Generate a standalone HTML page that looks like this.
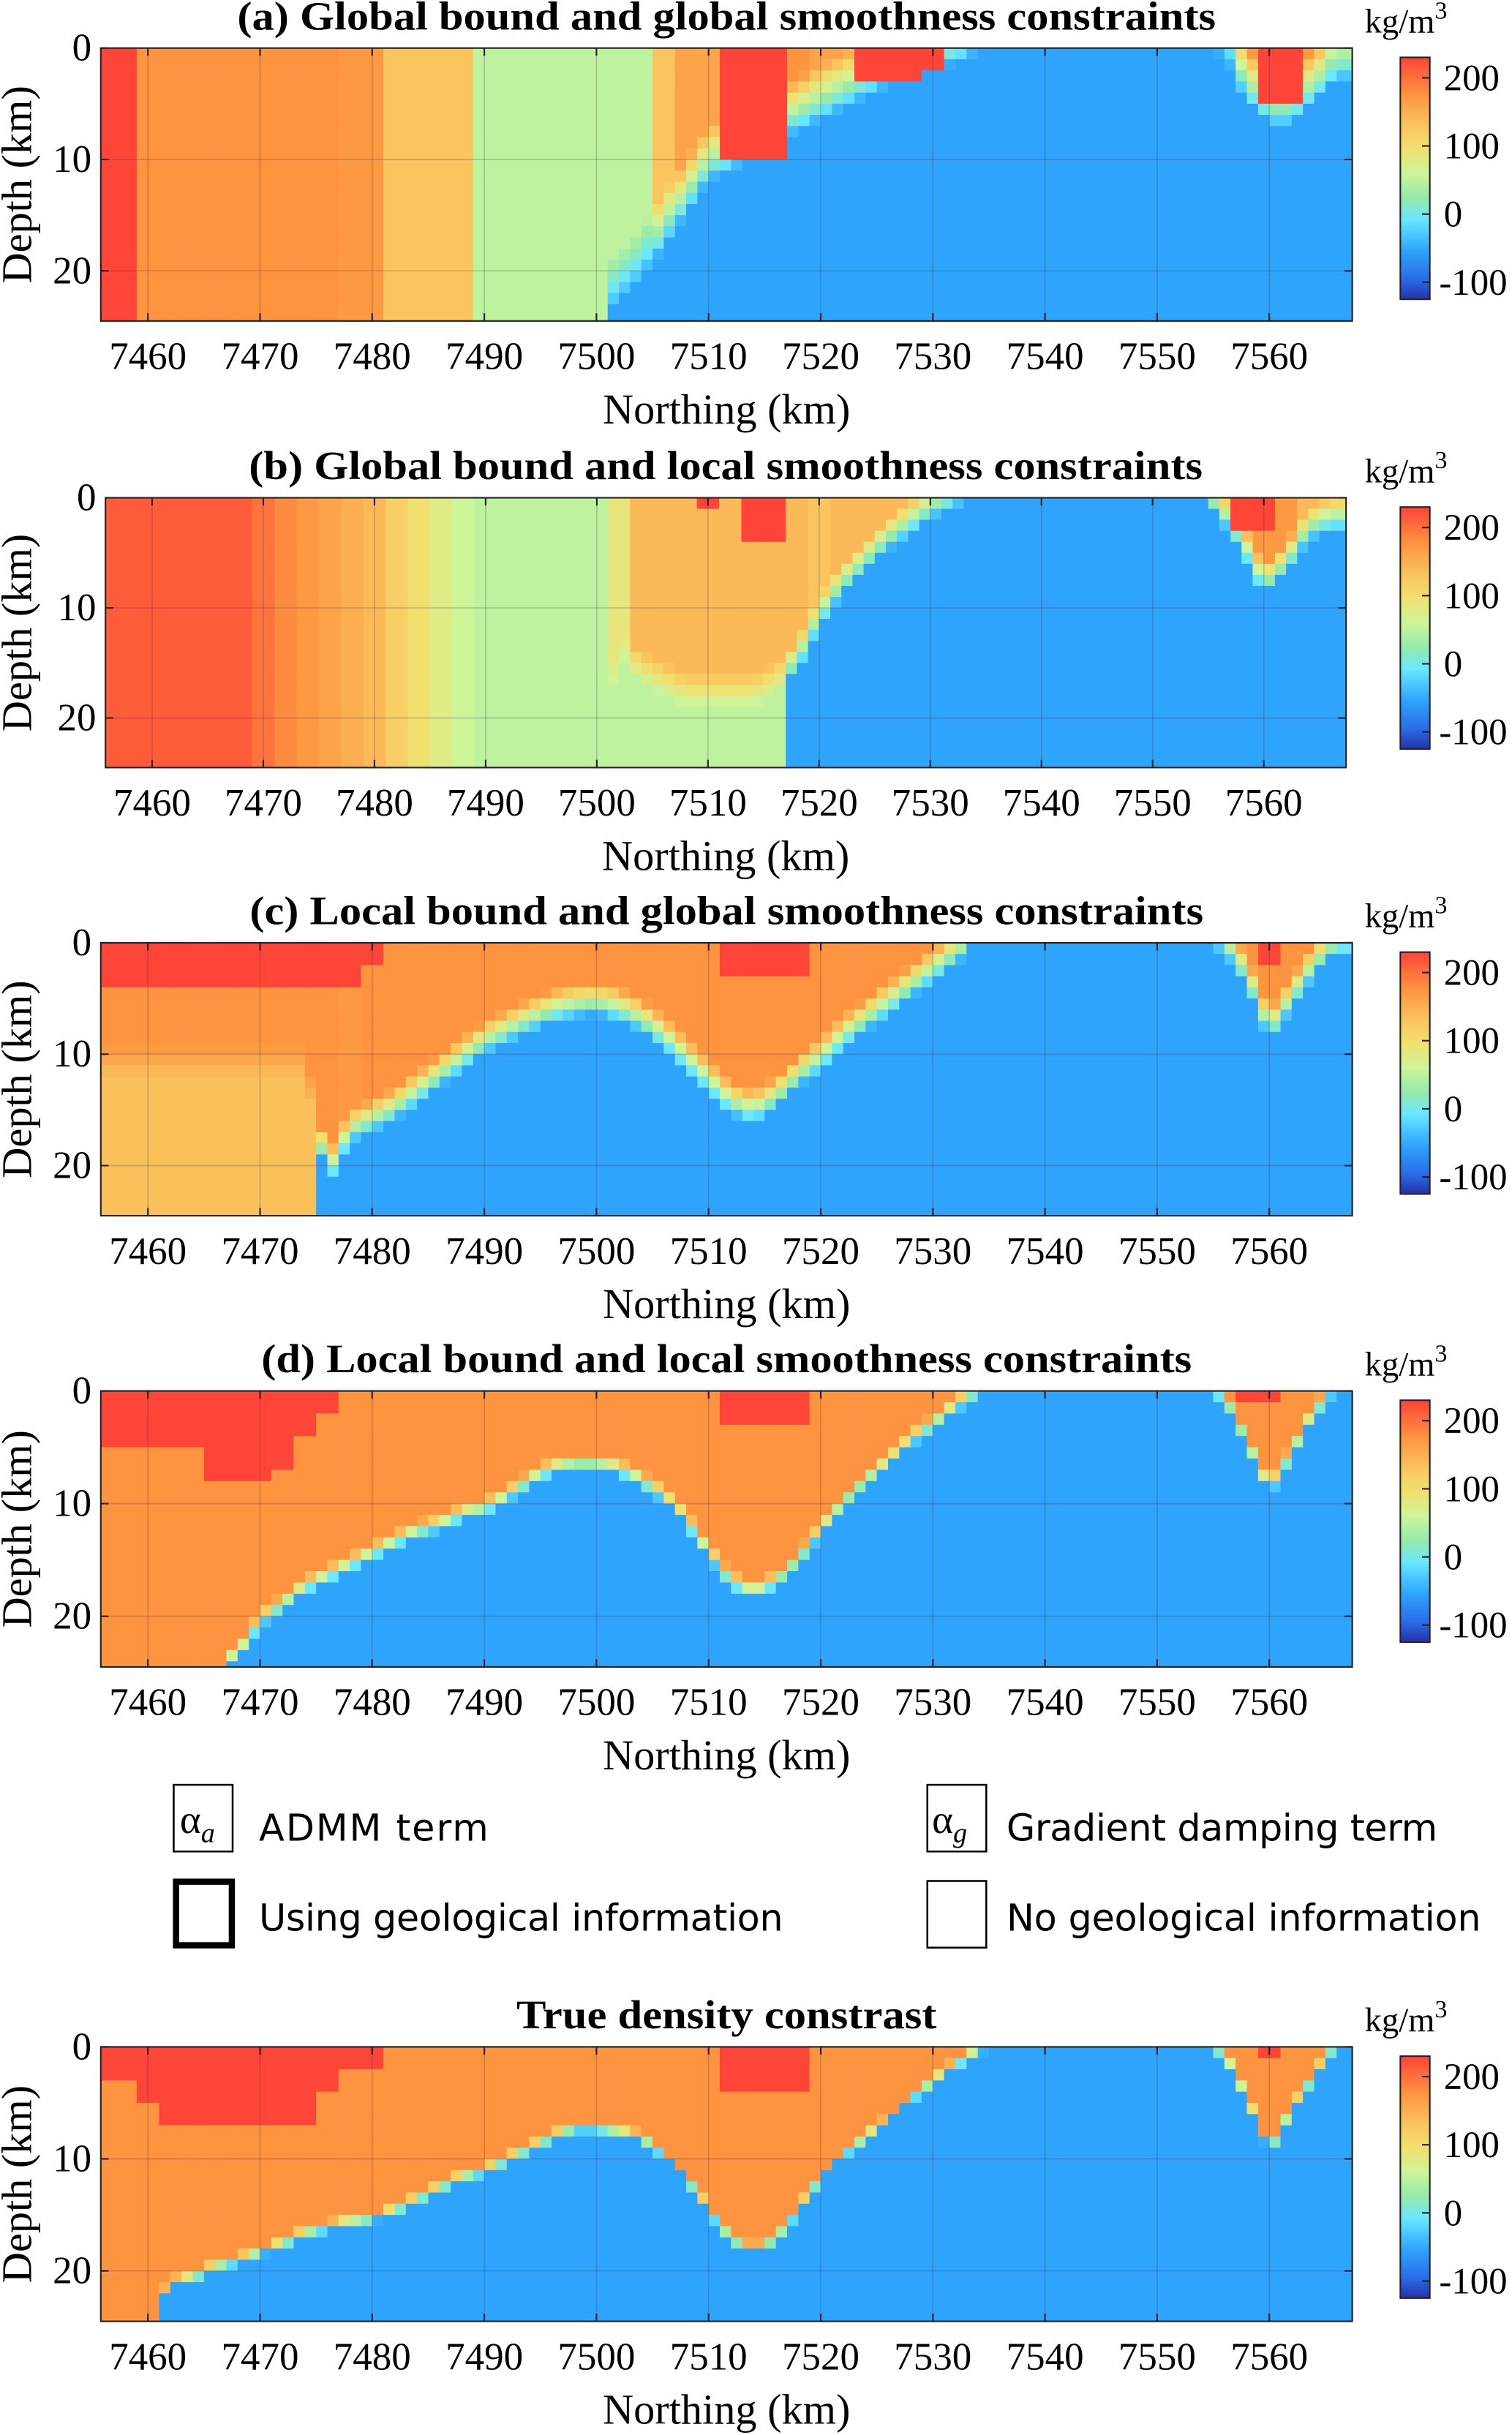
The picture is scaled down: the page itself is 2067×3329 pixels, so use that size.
<!DOCTYPE html>
<html><head><meta charset="utf-8"><style>
html,body{margin:0;padding:0;background:#fff;}
svg{display:block;}
.t{font-family:"Liberation Serif",serif;fill:#000;}
.s{font-family:"DejaVu Sans","Liberation Sans",sans-serif;fill:#000;}
</style></head><body>
<svg id="fig" width="2067" height="3329" viewBox="0 0 975 1570.3" xmlns="http://www.w3.org/2000/svg">
<defs>
<linearGradient id="cbg" x1="0" y1="1" x2="0" y2="0">
<stop offset="0" stop-color="#2432a8"/><stop offset="0.08" stop-color="#2a6ae6"/>
<stop offset="0.2" stop-color="#2ea4fd"/><stop offset="0.33" stop-color="#69e8ff"/>
<stop offset="0.42" stop-color="#94eaab"/><stop offset="0.52" stop-color="#cdf59a"/>
<stop offset="0.62" stop-color="#f0e070"/><stop offset="0.7" stop-color="#f9cb61"/>
<stop offset="0.85" stop-color="#fe9340"/><stop offset="1" stop-color="#ff4438"/>
</linearGradient>
</defs>
<g id="panels"></g>
<g>
<rect x="112" y="1151" width="38" height="43" fill="#fff" stroke="#000" stroke-width="1.2"/>
<text x="116" y="1182" class="t" font-size="26">α<tspan font-size="18" dy="6" font-style="italic">a</tspan></text>
<text x="167" y="1187" class="s" font-size="24" textLength="148">ADMM term</text>
<rect x="598" y="1151" width="38" height="43" fill="#fff" stroke="#000" stroke-width="1.2"/>
<text x="601" y="1182" class="t" font-size="26">α<tspan font-size="18" dy="6" font-style="italic">g</tspan></text>
<text x="649" y="1187" class="s" font-size="24" textLength="278">Gradient damping term</text>
<rect x="113.5" y="1213.5" width="36" height="41" fill="#fff" stroke="#000" stroke-width="4"/>
<text x="167" y="1245" class="s" font-size="24" textLength="338">Using geological information</text>
<rect x="598" y="1213" width="38" height="43" fill="#fff" stroke="#000" stroke-width="1.2"/>
<text x="649" y="1245" class="s" font-size="24" textLength="306">No geological information</text>
</g>
</svg>
<script>
// Columns at 2 km spacing: 7456..7566
const northing = Array.from({length:56},(_, i)=>7456+2*i);
const xTicks = [7460,7470,7480,7490,7500,7510,7520,7530,7540,7550,7560];
const zTicks = [0,10,20];
const cbTicks = [200,100,0,-100];
const capValue = 215;

// Panel a
const aUpper = [215,215,165,165,165,165,165,165,165,165,165,160,160,120,120,120,120,40,40,40,40,40,40,40,40,120,150,150,165,165,165,165,150,150,150,150,150,150,150,100,-60,-60,-60,-60,-60,-60,-60,-60,-60,-60,40,160,160,160,160,120];
const aCap = [0,0,0,0,0,0,0,0,0,0,0,0,0,0,0,0,0,0,0,0,0,0,0,0,0,0,0,0,10,10,10,0,0,0,3,3,3,2,0,0,0,0,0,0,0,0,0,0,0,0,0,0,5,5,0,0];
const aIface = [25,25,25,25,25,25,25,25,25,25,25,25,25,25,25,25,25,25,25,25,25,25,25,23,21,18,15,12,11,10,8.5,7.5,6.5,5.5,4.5,3.5,3,2,1.5,0.5,0,0,0,0,0,0,0,0,0,0,1,5,7,7,5,3];
const aLower = new Array(56).fill(-60);
// Panel b
const bUpper = [200,200,200,200,200,200,200,185,170,160,150,140,130,110,90,70,50,40,40,40,40,40,40,80,130,130,130,130,130,130,130,130,120,130,130,130,130,130,130,-60,-60,-60,-60,-60,-60,-60,-60,-60,-60,-60,160,160,160,160,130,130];
const bCap = [0,0,0,0,0,0,0,0,0,0,0,0,0,0,0,0,0,0,0,0,0,0,0,0,0,0,0,1,0,4,4,0,0,0,0,0,0,0,0,0,0,0,0,0,0,0,0,0,0,0,0,3,3,0,0,0];
const bIface = [25,25,25,25,25,25,25,25,25,25,25,25,25,25,25,25,25,25,25,25,25,25,25,15,17,18,19,19,19,19,18,16,12,9,7,5,3.5,2,1,0,0,0,0,0,0,0,0,0,0,0,2,5,9,7,4,3];
const bLower = [40,40,40,40,40,40,40,40,40,40,40,40,40,40,40,40,40,40,40,40,40,40,40,40,40,40,40,40,40,40,40,-60,-60,-60,-60,-60,-60,-60,-60,-60,-60,-60,-60,-60,-60,-60,-60,-60,-60,-60,-60,-60,-60,-60,-60,-60];
// Panel c
const cUpper = [165,165,165,165,165,165,165,165,165,165,165,160,165,165,165,165,165,165,165,165,165,165,165,165,165,165,165,165,165,165,165,165,165,165,165,165,165,165,165,-60,-60,-60,-60,-60,-60,-60,-60,-60,-60,-60,165,165,165,165,165,165];
const cCap = [4,4,4,4,4,4,4,4,4,4,4,4,2,0,0,0,0,0,0,0,0,0,0,0,0,0,0,0,3.5,3.5,3.5,3.5,0,0,0,0,0,0,0,0,0,0,0,0,0,0,0,0,0,0,0,0,2.5,0,0,0];
const cIface = [12,12,12,12,12,12,12,12,12,12,22,18,17,16,14.5,13,11.5,10,9,8,7.2,6.7,6.5,7,8,9.5,11.5,13.5,15.5,16.2,15,13,11.5,9.5,8,6.5,5,3.5,2,0.5,0,0,0,0,0,0,0,0,0,0,1,4,9,6,3,1];
const cLower = [125,125,125,125,125,125,125,125,125,125,-60,-60,-60,-60,-60,-60,-60,-60,-60,-60,-60,-60,-60,-60,-60,-60,-60,-60,-60,-60,-60,-60,-60,-60,-60,-60,-60,-60,-60,-60,-60,-60,-60,-60,-60,-60,-60,-60,-60,-60,-60,-60,-60,-60,-60,-60];
// Panel d
const dUpper = [165,165,165,165,165,165,165,165,165,165,165,165,165,165,165,165,165,165,165,165,165,165,165,165,165,165,165,165,165,165,165,165,165,165,165,165,165,165,165,165,-60,-60,-60,-60,-60,-60,-60,-60,-60,-60,165,165,165,165,165,165];
const dCap = [5,5,5,5,5,8,8,8,7,4,2,0,0,0,0,0,0,0,0,0,0,0,0,0,0,0,0,0,3.5,3.5,3.5,3.5,0,0,0,0,0,0,0,0,0,0,0,0,0,0,0,0,0,0,0,1.5,1.5,0,0,0];
const dIface = [25,25,25,25,25,25,24,21,19.5,18,17,16,15,14,13,12.5,11.5,11,10,8.5,7.5,7,7,7.5,8.5,10,12,15,17.5,18.5,17.5,15.5,13,10.5,8.5,7,5,3.5,2,0.5,0,0,0,0,0,0,0,0,0,0,1,5,9.5,6,2.5,0];
const dLower = new Array(56).fill(-60);
// True model
const tUpper = dUpper.slice();
const tCap = [3,3,5,7.5,7.5,7.5,7.5,7.5,7.5,7.5,4,2,2,0,0,0,0,0,0,0,0,0,0,0,0,0,0,0,4,4,4,4,0,0,0,0,0,0,0,0,0,0,0,0,0,0,0,0,0,0,0,0,1.5,0,0,0];
const tIface = [25,25,25,21.5,21,20,19.5,18.7,18,17,16.5,16,15.7,15,14,13,12,11.5,10.5,9.5,8.5,7.6,7.6,8,8.5,10,12,15,17.5,18.7,17.5,15,12,10,8.5,7,5,3.5,2,0.7,0,0,0,0,0,0,0,0,0,0,1,5,9.7,6,3,0];
const tLower = new Array(56).fill(-60);

const panels = [
 {id:'a',title:'(a) Global bound and global smoothness constraints',tl:631,x0:65,x1:872,y0:31,y1:207,w:5,up:aUpper,cap:aCap,ifc:aIface,lo:aLower},
 {id:'b',title:'(b) Global bound and local smoothness constraints',tl:615,x0:68,x1:868,y0:321,y1:495,w:3,up:bUpper,cap:bCap,ifc:bIface,lo:bLower},
 {id:'c',title:'(c) Local bound and global smoothness constraints',tl:615,x0:65,x1:872,y0:608,y1:784,w:3,up:cUpper,cap:cCap,ifc:cIface,lo:cLower},
 {id:'d',title:'(d) Local bound and local smoothness constraints',tl:600,x0:65,x1:872,y0:897,y1:1075,w:1.5,up:dUpper,cap:dCap,ifc:dIface,lo:dLower},
 {id:'true',title:'True density constrast',tl:271,x0:65,x1:872,y0:1320,y1:1497,w:1,up:tUpper,cap:tCap,ifc:tIface,lo:tLower}
];
const NMIN=7455.8, NMAX=7567.4, ZMAX=24.5;
const stops=[[-125,[36,50,168]],[-100,[42,106,230]],[-60,[46,164,253]],[-25,[105,232,255]],[10,[148,234,171]],[50,[205,245,154]],[90,[240,224,112]],[115,[249,203,97]],[165,[254,147,64]],[215,[255,68,56]],[240,[255,68,56]]];
function cmap(v){
 if(v<=stops[0][0]) return 'rgb('+stops[0][1]+')';
 for(let k=1;k<stops.length;k++){ if(v<=stops[k][0]){const a=stops[k-1],b=stops[k];const t=(v-a[0])/(b[0]-a[0]);
  return 'rgb('+a[1].map((c,j)=>Math.round(c+(b[1][j]-c)*t)).join(',')+')';}}
 return 'rgb('+stops[stops.length-1][1]+')';
}
const NS='http://www.w3.org/2000/svg';
function mk(tag,attrs,parent){const e=document.createElementNS(NS,tag);for(const k in attrs)e.setAttribute(k,attrs[k]);parent.appendChild(e);return e;}
function colIdx(n){return Math.max(0,Math.min(55,Math.round((n-7456)/2)));}
function ifaceAt(arr,n){const f=(n-7456)/2;const i=Math.max(0,Math.min(54,Math.floor(f)));const t=Math.max(0,Math.min(1,f-i));return arr[i]+(arr[i+1]-arr[i])*t;}
const root=document.getElementById('panels');
panels.forEach(p=>{
 const g=mk('g',{},root);
 
 
 const X=n=>p.x0+(n-NMIN)/(NMAX-NMIN)*(p.x1-p.x0);
 const Z=z=>p.y0+z/ZMAX*(p.y1-p.y0);
 const cid='clip'+p.id;
 const cp=mk('clipPath',{id:cid},g);mk('rect',{x:p.x0,y:p.y0,width:p.x1-p.x0,height:p.y1-p.y0},cp);
 const hm=mk('g',{'clip-path':'url(#'+cid+')'},g);
 
 
 for(let n=7455;n<7568;n++){
  const nc=n+0.5,i=colIdx(nc);
  const noIf=p.ifc[i]>=25;
  const ifc=noIf?99:ifaceAt(p.ifc,nc);
  for(let z=0;z<25;z+=1){
   const zc=z+0.5;let v;
   if(zc<p.cap[i]) v=capValue;
   else if(zc<ifc){const t=Math.max(0,Math.min(1,(ifc-zc)/p.w));v=p.lo[i]+(p.up[i]-p.lo[i])*t;}
   else v=p.lo[i];
   const r=mk('rect',{x:X(n).toFixed(2),y:Z(z).toFixed(2),width:(X(n+1)-X(n)+0.4).toFixed(2),height:(Z(z+1)-Z(z)+0.4).toFixed(2),fill:cmap(v)},hm);
   
   
  }
 }
 xTicks.forEach(t=>{
  mk('line',{x1:X(t),x2:X(t),y1:p.y0,y2:p.y1,stroke:'rgba(60,60,60,0.25)','stroke-width':0.8},g);
  mk('line',{x1:X(t),x2:X(t),y1:p.y1,y2:p.y1-5,stroke:'#222','stroke-width':1},g);
  mk('line',{x1:X(t),x2:X(t),y1:p.y0,y2:p.y0+5,stroke:'#222','stroke-width':1},g);
  const tx=mk('text',{x:X(t),y:p.y1+31,'text-anchor':'middle','font-size':25,class:'t'},g);tx.textContent=t;
  
  
 });
 zTicks.forEach(t=>{
  if(t>0) mk('line',{x1:p.x0,x2:p.x1,y1:Z(t),y2:Z(t),stroke:'rgba(60,60,60,0.25)','stroke-width':0.8},g);
  mk('line',{x1:p.x0,x2:p.x0+5,y1:Z(t),y2:Z(t),stroke:'#222','stroke-width':1},g);
  mk('line',{x1:p.x1,x2:p.x1-5,y1:Z(t),y2:Z(t),stroke:'#222','stroke-width':1},g);
  const tx=mk('text',{x:p.x0-6,y:Z(t)+8,'text-anchor':'end','font-size':25,class:'t'},g);tx.textContent=t;
  
  
 });
 mk('rect',{x:p.x0,y:p.y0,width:p.x1-p.x0,height:p.y1-p.y0,fill:'none',stroke:'#222','stroke-width':1},g);
 const tt=mk('text',{x:(p.x0+p.x1)/2,y:p.y0-12,'text-anchor':'middle','font-size':26,'font-weight':'bold',class:'t',textLength:p.tl,lengthAdjust:'spacingAndGlyphs'},g);tt.textContent=p.title;
 
 
 const xl=mk('text',{x:(p.x0+p.x1)/2,y:p.y1+66,'text-anchor':'middle','font-size':27.5,class:'t'},g);xl.textContent='Northing (km)';
 
 
 const ymid=(p.y0+p.y1)/2;
 const yl=mk('text',{x:20,y:ymid,'text-anchor':'middle','font-size':27.5,class:'t',transform:'rotate(-90 20 '+ymid+')'},g);yl.textContent='Depth (km)';
 
 
 const cb=mk('g',{},g);
 
 
 const cy0=p.y0+6,cy1=p.y0+162,cx=903,cw=19;
 mk('rect',{x:cx,y:cy0,width:cw,height:cy1-cy0,fill:'url(#cbg)',stroke:'#222','stroke-width':1},cb);
 const V=v=>cy1-(v+125)/(230+125)*(cy1-cy0);
 cbTicks.forEach(t=>{
  mk('line',{x1:cx+cw-5,x2:cx+cw,y1:V(t),y2:V(t),stroke:'#222','stroke-width':1},cb);
  const tx=mk('text',{x:t<0?cx+cw+6:cx+cw+9,y:V(t)+8,'font-size':24,class:'t'},cb);tx.textContent=t;
  
  
 });
 const un=mk('text',{x:880,y:p.y0-10,'font-size':22,class:'t'},cb);un.innerHTML='kg/m<tspan dy="-9" font-size="16">3</tspan>';
 
 
});
</script>
</body></html>
